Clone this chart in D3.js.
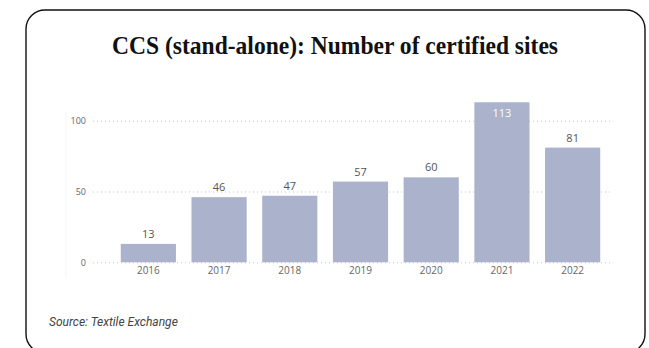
<!DOCTYPE html>
<html>
<head>
<meta charset="utf-8">
<script src="https://cdn.jsdelivr.net/npm/d3@7"></script>
<style>
  html, body { margin: 0; padding: 0; background: #fff; }
</style>
</head>
<body>
<div id="chart"></div>
<script>
var years = ['2016', '2017', '2018', '2019', '2020', '2021', '2022'],
    sites = [13, 46, 47, 57, 60, 113, 81],
    yTicks = [0, 50, 100];

var width = 649,
    height = 348,
    svg = d3.select('#chart')
        .append('svg')
        .attr('width', width)
        .attr('height', height);

// card outline
svg.append('rect')
    .attr('x', 26).attr('y', 10)
    .attr('width', 619).attr('height', 343)
    .attr('rx', 19).attr('ry', 19)
    .attr('fill', '#fff')
    .attr('stroke', '#111')
    .attr('stroke-width', 1.4);

svg.append('text')
    .attr('x', 335).attr('y', 54)
    .attr('text-anchor', 'middle')
    .attr('font-family', 'Liberation Serif, serif')
    .attr('font-weight', 'bold')
    .attr('font-size', 25)
    .attr('textLength', 446)
    .attr('lengthAdjust', 'spacingAndGlyphs')
    .attr('fill', '#111')
    .text('CCS (stand-alone): Number of certified sites');

var x = d3.scaleBand()
        .domain(years)
        .range([113, 608])
        .paddingInner(0.22)
        .paddingOuter(0.11),
    y = d3.scaleLinear()
        .domain([0, 100])
        .range([262.3, 120.7]);

// faint y axis line
svg.append('line')
    .attr('x1', 66).attr('x2', 66)
    .attr('y1', 112).attr('y2', 278)
    .attr('stroke', '#f6f6f6');

var grid = svg.append('g')
    .attr('transform', 'translate(93,0)')
    .call(d3.axisLeft(y).tickValues(yTicks).tickSize(-520).tickFormat(''));
grid.select('.domain').remove();
grid.selectAll('line')
    .attr('stroke', '#c8c8c8')
    .attr('stroke-dasharray', '1,3');

var yAxis = svg.append('g')
    .attr('transform', 'translate(86,0)')
    .call(d3.axisLeft(y).tickValues(yTicks).tickSize(0).tickPadding(0));
yAxis.select('.domain').remove();
yAxis.selectAll('text')
    .attr('font-family', 'Open Sans, sans-serif')
    .attr('font-size', 9)
    .attr('fill', '#666');

svg.selectAll('rect.bar')
    .data(sites)
    .enter()
    .append('rect')
    .classed('bar', true)
    .attr('x', function (d, i) { return x(years[i]); })
    .attr('y', function (d) { return y(d); })
    .attr('width', x.bandwidth())
    .attr('height', function (d) { return y(0) - y(d); })
    .attr('fill', '#aab2cc');

var xAxis = svg.append('g')
    .attr('transform', 'translate(0,' + y(0) + ')')
    .call(d3.axisBottom(x).tickSize(0).tickPadding(5));
xAxis.select('.domain').remove();
xAxis.selectAll('text')
    .attr('font-family', 'Open Sans, sans-serif')
    .attr('font-size', 10)
    .attr('fill', '#666');

svg.selectAll('text.val')
    .data(sites)
    .enter()
    .append('text')
    .classed('val', true)
    .attr('x', function (d, i) { return x(years[i]) + x.bandwidth() / 2; })
    .attr('y', function (d) { return d > 100 ? y(d) + 15 : y(d) - 6; })
    .attr('text-anchor', 'middle')
    .attr('font-family', 'Open Sans, sans-serif')
    .attr('font-size', 11)
    .attr('fill', function (d) { return d > 100 ? '#fff' : '#555'; })
    .text(function (d) { return d; });

svg.append('text')
    .attr('x', 49).attr('y', 326)
    .attr('font-family', 'Roboto, sans-serif')
    .attr('font-style', 'italic')
    .attr('font-size', 12)
    .attr('fill', '#444')
    .text('Source: Textile Exchange');
</script>
</body>
</html>
